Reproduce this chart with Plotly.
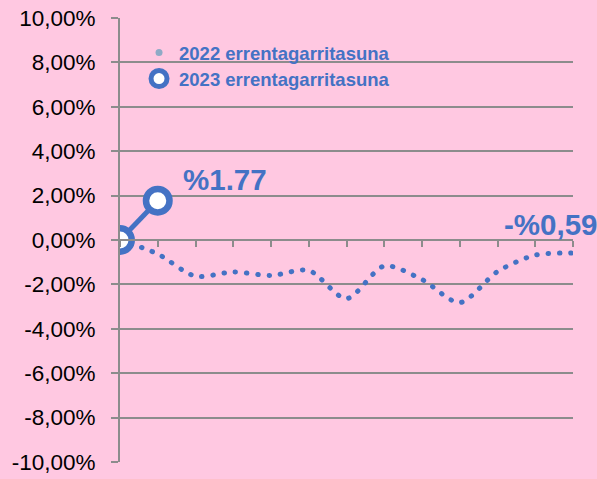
import plotly.graph_objects as go

# ---- data ----
months = list(range(13))  # category positions (tick boundaries)
rent_2022 = [0.00, -0.63, -1.63, -1.44, -1.60, -1.37, -2.64, -1.17, -1.78, -2.82, -1.42, -0.68, -0.59]
rent_2023 = [0.00, 1.77]
series_names = ["2022 errentagarritasuna", "2023 errentagarritasuna"]
y_tick_vals = [10, 8, 6, 4, 2, 0, -2, -4, -6, -8, -10]
y_tick_text = ["10,00%", "8,00%", "6,00%", "4,00%", "2,00%", "0,00%",
               "-2,00%", "-4,00%", "-6,00%", "-8,00%", "-10,00%"]
label_2023 = "%1.77"
label_2022 = "-%0,59"

BLUE = "#4472C4"
PINK = "#FFC8E1"
GRID = "#8C8C8C"
FONT = "Liberation Sans, Arial, sans-serif"

fig = go.Figure()

# 2022 dotted smooth line
fig.add_trace(go.Scatter(
    x=months, y=rent_2022, mode="lines",
    line=dict(color=BLUE, width=5, dash="0.5px,10.8px", shape="spline", smoothing=0.8),
    showlegend=False, hoverinfo="skip"))

# 2023 line with large markers
fig.add_trace(go.Scatter(
    x=months[:len(rent_2023)], y=rent_2023, mode="lines+markers",
    line=dict(color=BLUE, width=5),
    marker=dict(size=23.5, color="white", line=dict(color=BLUE, width=6.5)),
    showlegend=False, hoverinfo="skip"))

# legend-only entries
fig.add_trace(go.Scatter(
    x=[None], y=[None], mode="markers", name=series_names[0],
    marker=dict(size=7, color="#8FAAC6"), legend="legend"))
fig.add_trace(go.Scatter(
    x=[None], y=[None], mode="markers", name=series_names[1],
    marker=dict(size=16, color="white", line=dict(color=BLUE, width=5)), legend="legend2"))

legend_common = dict(bgcolor="rgba(0,0,0,0)", borderwidth=0,
                     font=dict(family=FONT, size=18.5, color=BLUE, weight="bold"),
                     xanchor="left", yanchor="middle", itemsizing="trace")

fig.update_layout(
    width=597, height=479,
    margin=dict(l=120, r=24, t=18, b=17, autoexpand=False),
    paper_bgcolor=PINK, plot_bgcolor=PINK,
    legend=dict(x=0.042, y=0.921, **legend_common),
    legend2=dict(x=0.042, y=0.8626, **legend_common),
    xaxis=dict(range=[0, 12], tickvals=months, showticklabels=False,
               ticks="outside", ticklen=6, tickwidth=1.5, tickcolor=GRID,
               showline=True, linecolor=GRID, linewidth=2,
               showgrid=False, zeroline=False, automargin=False,
               anchor="free", position=0.5, fixedrange=True),
    yaxis=dict(range=[-10, 10], tickvals=y_tick_vals, ticktext=y_tick_text,
               ticks="outside", ticklen=7, tickwidth=1.5, tickcolor=GRID,
               showline=True, linecolor=GRID, linewidth=2,
               showgrid=True, gridcolor=GRID, gridwidth=1.5,
               zeroline=False, ticklabelstandoff=11, automargin=False,
               tickfont=dict(family=FONT, size=22.5, color="black"),
               fixedrange=True),
    annotations=[
        dict(x=months[1], y=rent_2023[1], xref="x", yref="y", text=label_2023,
             showarrow=False, xanchor="left", yanchor="middle", xshift=23, yshift=21,
             font=dict(family=FONT, size=29.5, color=BLUE, weight="bold")),
        dict(x=months[-1], y=rent_2022[-1], xref="x", yref="y", text=label_2022,
             showarrow=False, xanchor="right", yanchor="middle", xshift=26, yshift=29,
             font=dict(family=FONT, size=29.5, color=BLUE, weight="bold")),
    ],
)

post = """
document.body.style.margin='0';document.body.style.padding='0';
var tr = document.querySelectorAll('.scatterlayer .trace')[0];
if (tr) { tr.querySelectorAll('path.js-line').forEach(function(p){ p.style.strokeLinecap='round'; }); }
"""
fig.write_html("out.html", config={"displayModeBar": False}, post_script=post)
